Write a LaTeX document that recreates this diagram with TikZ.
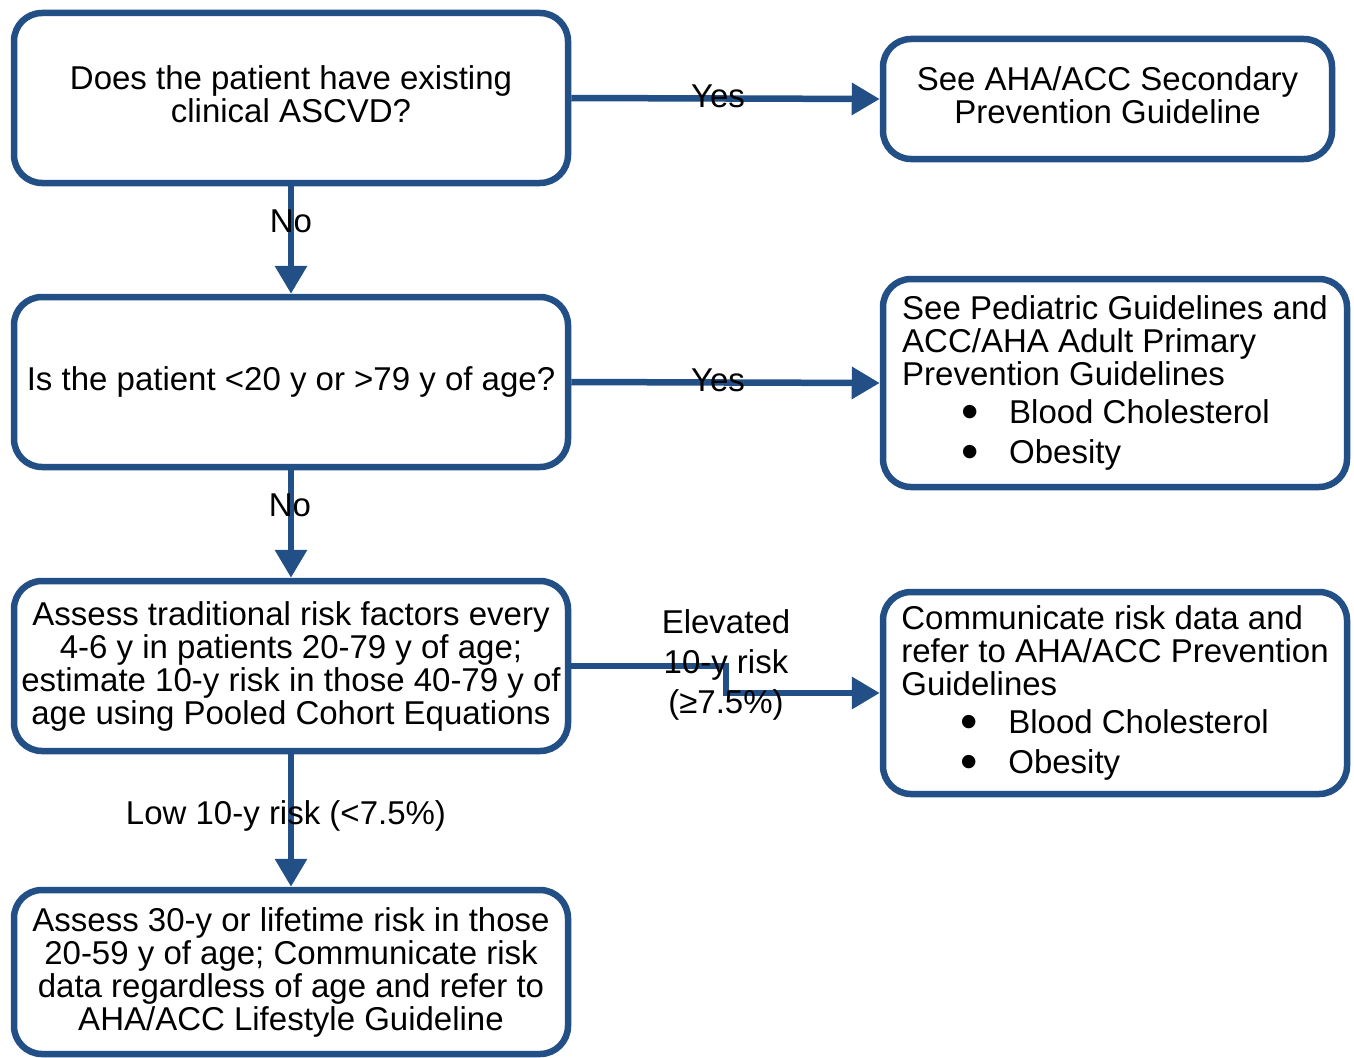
\documentclass[tikz,border=0pt]{standalone}
\usepackage{fontspec}
\setmainfont{Liberation Sans}
\usetikzlibrary{arrows.meta}
\definecolor{ahablue}{RGB}{33,79,134}
\newcommand{\bigbul}{\makebox[48pt][l]{\smash{\raisebox{-4.5pt}{\scalebox{1.5}{\textbullet}}}}}
\begin{document}
\begin{tikzpicture}[x=1pt,y=-1pt,
  box/.style={draw=ahablue, line width=6.5pt, rounded corners=28pt, fill=white,
    inner sep=0pt, align=center, font=\fontsize{33}{33}\selectfont},
  listbox/.style={box, align=left},
  conn/.style={draw=ahablue, line width=6.5pt, -{Triangle[length=28pt,width=31pt]}},
  lbl/.style={inner sep=0pt, align=center, font=\fontsize{33}{40}\selectfont}]
\useasboundingbox (0,0) rectangle (1354,1057);

\node[box, minimum width=554pt, minimum height=170pt] (b1) at (291,98)
  {Does the patient have existing\\clinical ASCVD?\\[-25pt]\mbox{}};
\node[box, minimum width=449pt, minimum height=120pt] (b2) at (1107.5,99)
  {See AHA/ACC Secondary\\Prevention Guideline\\[-25pt]\mbox{}};
\node[box, minimum width=554pt, minimum height=170pt] (b3) at (291,382)
  {Is the patient <20 y or >79 y of age?};
\node[listbox, minimum width=464pt, minimum height=208pt] (b4) at (1115,383)
  {See Pediatric Guidelines and\\ACC/AHA Adult Primary\\Prevention Guidelines\\[5pt]%
   \hspace*{59pt}\bigbul Blood Cholesterol\\[7pt]%
   \hspace*{59pt}\bigbul Obesity};
\node[box, minimum width=554pt, minimum height=170pt] (b5) at (291,666)
  {Assess traditional risk factors every\\4-6 y in patients 20-79 y of age;\\estimate 10-y risk in those 40-79 y of\\age using Pooled Cohort Equations};
\node[listbox, minimum width=464pt, minimum height=202pt] (b6) at (1115,693)
  {Communicate risk data and\\refer to AHA/ACC Prevention\\Guidelines\\[5pt]%
   \hspace*{59pt}\bigbul Blood Cholesterol\\[7pt]%
   \hspace*{59pt}\bigbul Obesity};
\node[box, minimum width=554pt, minimum height=164pt] (b7) at (291,972)
  {Assess 30-y or lifetime risk in those\\20-59 y of age; Communicate risk\\data regardless of age and refer to\\AHA/ACC Lifestyle Guideline};

\draw[conn] (b1.east) -- (b2.west);
\draw[conn] (b1.south) -- (b3.north);
\draw[conn] (b3.east) -- (b4.west);
\draw[conn] (b3.south) -- (b5.north);
\coordinate (elbow) at (726,666);
\draw[conn] (b5.east) -- (elbow) |- (b6.west);
\draw[conn] (b5.south) -- (b7.north);

\node[lbl] (yes1) at (718,96) {Yes};
\node[lbl] (no1) at (291,221) {No};
\node[lbl] (yes2) at (718,380) {Yes};
\node[lbl] (no2) at (290,505) {No};
\node[lbl] (elev) at (726,665) {Elevated\\10-y risk\\(≥7.5\%)};
\node[lbl] (low) at (286,816) {Low 10-y risk (<7.5\%)};
\end{tikzpicture}
\end{document}
